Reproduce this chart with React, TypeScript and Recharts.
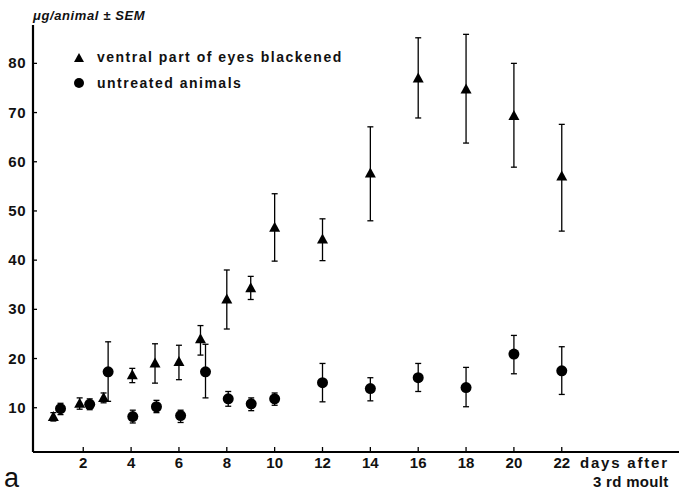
import React from 'react';
import { ScatterChart, Scatter, XAxis, YAxis, ErrorBar } from 'recharts';

// ventral part of eyes blackened (triangles)
const daysBlack = [0.75, 1.85, 2.85, 4.05, 5.0, 6.0, 6.9, 8.0, 9.0, 10, 12, 14, 16, 18, 20, 22];
const meanBlack = [8.1, 10.8, 12.0, 16.6, 19.0, 19.3, 23.9, 32.0, 34.3, 46.6, 44.2, 57.6, 76.9, 74.7, 69.3, 57.0];
const upperBlack = [9.0, 12.0, 13.0, 18.0, 23.0, 22.7, 26.7, 38.0, 36.7, 53.5, 48.4, 67.1, 85.2, 85.9, 80.0, 67.6];
const lowerBlack = [7.3, 9.7, 11.0, 15.1, 15.0, 15.7, 20.7, 26.0, 32.0, 39.8, 39.9, 48.0, 68.9, 63.8, 58.9, 45.9];

// untreated animals (circles)
const daysUntreated = [1.05, 2.27, 3.04, 4.07, 5.06, 6.07, 7.11, 8.06, 9.02, 10, 12, 14, 16, 18, 20, 22];
const meanUntreated = [9.8, 10.7, 17.3, 8.2, 10.2, 8.4, 17.3, 11.8, 10.8, 11.8, 15.1, 13.9, 16.1, 14.1, 20.9, 17.5];
const upperUntreated = [10.9, 11.8, 23.4, 9.5, 11.5, 9.5, 22.9, 13.3, 12.0, 13.0, 19.0, 16.1, 19.0, 18.2, 24.7, 22.4];
const lowerUntreated = [8.6, 9.6, 11.3, 6.9, 9.0, 7.0, 12.0, 10.3, 9.4, 10.5, 11.2, 11.4, 13.3, 10.2, 16.9, 12.7];

const xTicks = [2, 4, 6, 8, 10, 12, 14, 16, 18, 20, 22];
const yTicks = [10, 20, 30, 40, 50, 60, 70, 80];

const FONT = '"Liberation Sans", Arial, Helvetica, sans-serif';

const build = (days: number[], mean: number[], up: number[], low: number[]) =>
  days.map((d, i) => ({ day: d, value: mean[i], err: [mean[i] - low[i], up[i] - mean[i]] }));

const blackData = build(daysBlack, meanBlack, upperBlack, lowerBlack);
const untreatedData = build(daysUntreated, meanUntreated, upperUntreated, lowerUntreated);

const Triangle = (props: any) => {
  const { cx, cy } = props;
  if (cx == null || cy == null) return null;
  return <polygon points={`${cx - 5.5},${cy + 4} ${cx + 5.5},${cy + 4} ${cx},${cy - 6}`} fill="#000" />;
};

const Dot = (props: any) => {
  const { cx, cy } = props;
  if (cx == null || cy == null) return null;
  return <circle cx={cx} cy={cy} r={5.5} fill="#000" />;
};

const XTick = (props: any) => {
  const { x, y, payload } = props;
  return (
    <g>
      <line x1={x} x2={x} y1={y - 5} y2={y} stroke="#000" strokeWidth={1.3} />
      <text x={x} y={y + 16} textAnchor="middle" fontFamily={FONT} fontSize={15} fontWeight="bold" fill="#111">
        {payload.value}
      </text>
    </g>
  );
};

const YTick = (props: any) => {
  const { x, y, payload } = props;
  return (
    <g>
      <line x1={x} x2={x + 4} y1={y} y2={y} stroke="#000" strokeWidth={1.3} />
      <text x={x - 7} y={y + 5} textAnchor="end" fontFamily={FONT} fontSize={15} fontWeight="bold" letterSpacing={0.5} fill="#111">
        {payload.value}
      </text>
    </g>
  );
};

export default function App() {
  return (
    <div style={{ position: 'absolute', left: 0, top: 0, width: 679, height: 493, background: '#fff' }}>
      <ScatterChart width={679} height={493} margin={{ top: 25, right: 0, bottom: 0, left: 0 }}>
        <XAxis
          type="number"
          dataKey="day"
          domain={[-0.1, 26.9]}
          ticks={xTicks}
          allowDataOverflow
          height={41}
          tickSize={0}
          tickMargin={0}
          tickLine={false}
          tick={<XTick />}
          axisLine={{ stroke: '#000', strokeWidth: 2 }}
        />
        <YAxis
          type="number"
          dataKey="value"
          domain={[1, 87.8]}
          ticks={yTicks}
          allowDataOverflow
          width={33}
          tickSize={0}
          tickMargin={0}
          tickLine={false}
          tick={<YTick />}
          axisLine={{ stroke: '#000', strokeWidth: 2.2 }}
        />
        <Scatter data={blackData} shape={<Triangle />} isAnimationActive={false}>
          <ErrorBar dataKey="err" direction="y" width={3} stroke="#000" strokeWidth={1.3} />
        </Scatter>
        <Scatter data={untreatedData} shape={<Dot />} isAnimationActive={false}>
          <ErrorBar dataKey="err" direction="y" width={3} stroke="#000" strokeWidth={1.3} />
        </Scatter>
      </ScatterChart>
      <svg width={679} height={493} style={{ position: 'absolute', left: 0, top: 0, pointerEvents: 'none' }}>
        <text x={33} y={20} fontFamily={FONT} fontSize={13} fontWeight="bold" fontStyle="italic" letterSpacing={0.6} fill="#111">
          μg/animal ± SEM
        </text>
        <polygon points="74,62 84,62 79,53" fill="#000" />
        <text x={97} y={62} fontFamily={FONT} fontSize={14} fontWeight="bold" letterSpacing={1.5} fill="#111">
          ventral part of eyes blackened
        </text>
        <circle cx={79} cy={83} r={5} fill="#000" />
        <text x={97} y={88} fontFamily={FONT} fontSize={14} fontWeight="bold" letterSpacing={1.5} fill="#111">
          untreated animals
        </text>
        <text x={580} y={468} fontFamily={FONT} fontSize={15} fontWeight="bold" letterSpacing={1.8} fill="#111">
          days after
        </text>
        <text x={593} y={487} fontFamily={FONT} fontSize={15} fontWeight="bold" letterSpacing={0.3} fill="#111">
          3 rd moult
        </text>
        <text x={4} y={487} fontFamily={FONT} fontSize={27} fill="#111">
          a
        </text>
      </svg>
    </div>
  );
}
